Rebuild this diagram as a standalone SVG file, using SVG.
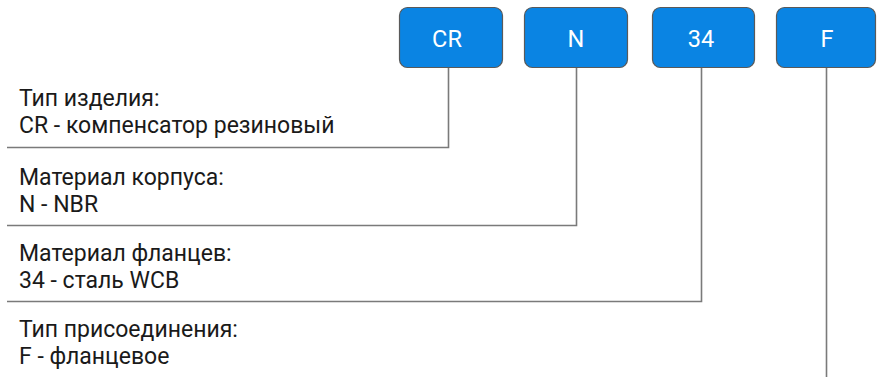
<svg xmlns="http://www.w3.org/2000/svg" width="877" height="377" viewBox="0 0 877 377">
<style>
.box{fill:#0a84e3;stroke:#5a5a5a;stroke-width:1.2}
.bt{font-family:Roboto,"Liberation Sans",sans-serif;font-size:23.5px;fill:#ffffff;text-anchor:middle}
.lt{font-family:Roboto,"Liberation Sans",sans-serif;font-size:23px;fill:#1a1a1a}
.ln{fill:none;stroke:#7a7a7a;stroke-width:1.6}
</style>
<rect width="877" height="377" fill="#ffffff"/>
<g id="connectors">
<polyline class="ln" points="7,147.5 448.5,147.5 448.5,68"/>
<polyline class="ln" points="7,225.5 576.5,225.5 576.5,68"/>
<polyline class="ln" points="7,301.5 701.5,301.5 701.5,68"/>
<line class="ln" x1="826.5" y1="68" x2="826.5" y2="377"/>
</g>
<g id="node-cr"><rect class="box" x="399.5" y="7.5" width="103" height="60" rx="8"/><text class="bt" x="447" y="47">CR</text></g>
<g id="node-n"><rect class="box" x="524.5" y="7.5" width="103" height="60" rx="8"/><text class="bt" x="576" y="47">N</text></g>
<g id="node-34"><rect class="box" x="652.5" y="7.5" width="102" height="60" rx="8"/><text class="bt" x="701" y="47">34</text></g>
<g id="node-f"><rect class="box" x="776.5" y="7.5" width="99" height="60" rx="8"/><text class="bt" x="827" y="47">F</text></g>
<g id="label-1"><text class="lt" x="19" y="105.5">Тип изделия:</text><text class="lt" x="19" y="132.5">CR - компенсатор резиновый</text></g>
<g id="label-2"><text class="lt" x="19" y="184.5">Материал корпуса:</text><text class="lt" x="19" y="211.5">N - NBR</text></g>
<g id="label-3"><text class="lt" x="19" y="260.5">Материал фланцев:</text><text class="lt" x="19" y="287.5">34 - сталь WCB</text></g>
<g id="label-4"><text class="lt" x="19" y="336.5">Тип присоединения:</text><text class="lt" x="19" y="363.5">F - фланцевое</text></g>
</svg>
